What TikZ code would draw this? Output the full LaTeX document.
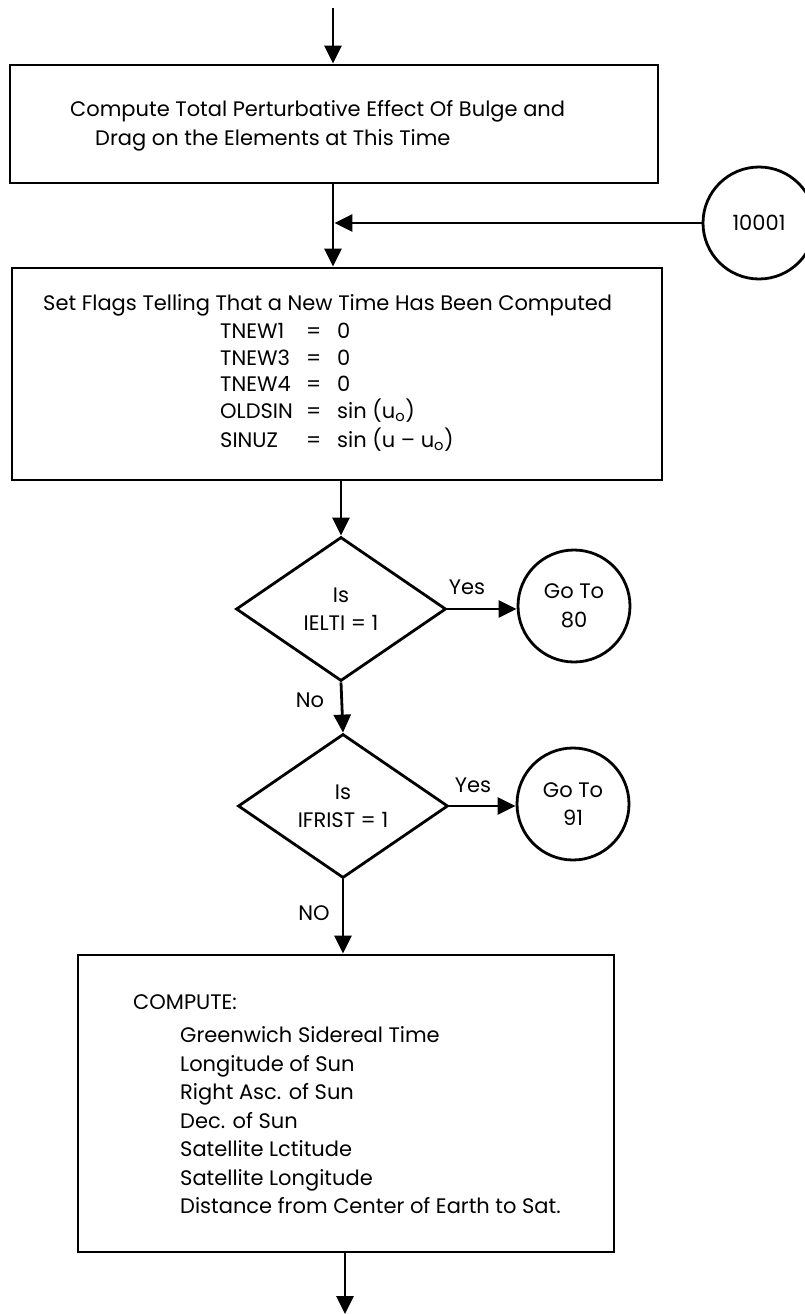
\documentclass[tikz,border=0pt]{standalone}
\usepackage{fontspec}
\setmainfont{Poppins}
\usetikzlibrary{arrows.meta,shapes.geometric,calc}
\newcommand\myfs{\fontsize{21pt}{28.5pt}\selectfont}
\begin{document}
\begin{tikzpicture}[x=1pt,y=-1pt,
  arr/.style={line width=2.8pt,-{Triangle[length=18pt,width=17pt]}},
  box/.style={draw,line width=2.8pt,rectangle,inner sep=0pt},
  dia/.style={draw,line width=2.8pt,diamond,minimum width=210pt,minimum height=144pt,inner sep=0pt,align=center,font=\myfs},
  circ/.style={draw,line width=2.8pt,circle,minimum size=112pt,inner sep=0pt,align=center,font=\myfs},
  txt/.style={inner sep=0pt,anchor=base west,font=\myfs},
  lbl/.style={inner sep=0pt,font=\myfs}
]
\useasboundingbox[fill=white] (0,0) rectangle (804,1314);

% nodes
\node[box,minimum width=648pt,minimum height=118pt] (box1) at (334,124) {};
\node[box,minimum width=650pt,minimum height=212pt] (box2) at (337,374) {};
\node[dia] (d1) at (341,609) {Is\\IELTI = 1};
\node[dia] (d2) at (343,806) {Is\\IFRIST = 1};
\node[circ] (g80) at (574,606) {Go To\\80};
\node[circ] (g91) at (573,804) {Go To\\91};
\node[circ] (c10001) at (759,223) {10001};
\node[box,minimum width=536pt,minimum height=297pt] (box3) at (346,1103.5) {};

% box 1 text
\node[txt] (t11) at (70,116) {Compute Total Perturbative Effect Of Bulge and};
\node[txt] (t12) at (95,145) {Drag on the Elements at This Time};

% box 2 text
\node[txt] (t21) at (43,310) {Set Flags Telling That a New Time Has Been Computed};
\node[txt] (a1) at (220,338) {\makebox[86pt][l]{TNEW1}\makebox[31pt][l]{=}0};
\node[txt] (a2) at (220,365) {\makebox[86pt][l]{TNEW3}\makebox[31pt][l]{=}0};
\node[txt] (a3) at (220,391) {\makebox[86pt][l]{TNEW4}\makebox[31pt][l]{=}0};
\node[txt] (a4) at (220,418) {\makebox[86pt][l]{OLDSIN}\makebox[31pt][l]{=}sin (u\textsubscript{o})};
\node[txt] (a5) at (220,447) {\makebox[86pt][l]{SINUZ}\makebox[31pt][l]{=}sin (u – u\textsubscript{o})};

% box 3 text
\node[txt] (t30) at (133,1009) {COMPUTE:};
\node[txt] (l1) at (180,1042.5) {Greenwich Sidereal Time};
\node[txt] (l2) at (180,1071) {Longitude of Sun};
\node[txt] (l3) at (180,1099.5) {Right Asc. of Sun};
\node[txt] (l4) at (180,1128) {Dec. of Sun};
\node[txt] (l5) at (180,1156.5) {Satellite Lctitude};
\node[txt] (l6) at (180,1185) {Satellite Longitude};
\node[txt] (l7) at (180,1213.5) {Distance from Center of Earth to Sat.};

% labels
\node[lbl] (yes1) at (467,587) {Yes};
\node[lbl] (yes2) at (473,785) {Yes};
\node[lbl] (no1) at (310,700) {No};
\node[lbl] (no2) at (314,913) {NO};

% coordinates
\coordinate (top) at (333,8);
\coordinate (bot) at (345,1314);

% connectors
\draw[arr] (top) -- (top |- box1.north);
\draw[arr] (box1.south -| top) -- (box2.north -| top);
\draw[arr] (c10001.west) -- ($(c10001.west -| top)+(1.4,0)$);
\draw[arr] (box2.south -| d1.north) -- (d1.north);
\draw[arr] (d1.south) -- (d2.north);
\draw[arr] (d1.east) -- (d1.east -| g80.west);
\draw[arr] (d2.east) -- (d2.east -| g91.west);
\draw[arr] (d2.south) -- (d2.south |- box3.north);
\draw[arr] (box3.south -| bot) -- (bot);
\end{tikzpicture}
\end{document}
